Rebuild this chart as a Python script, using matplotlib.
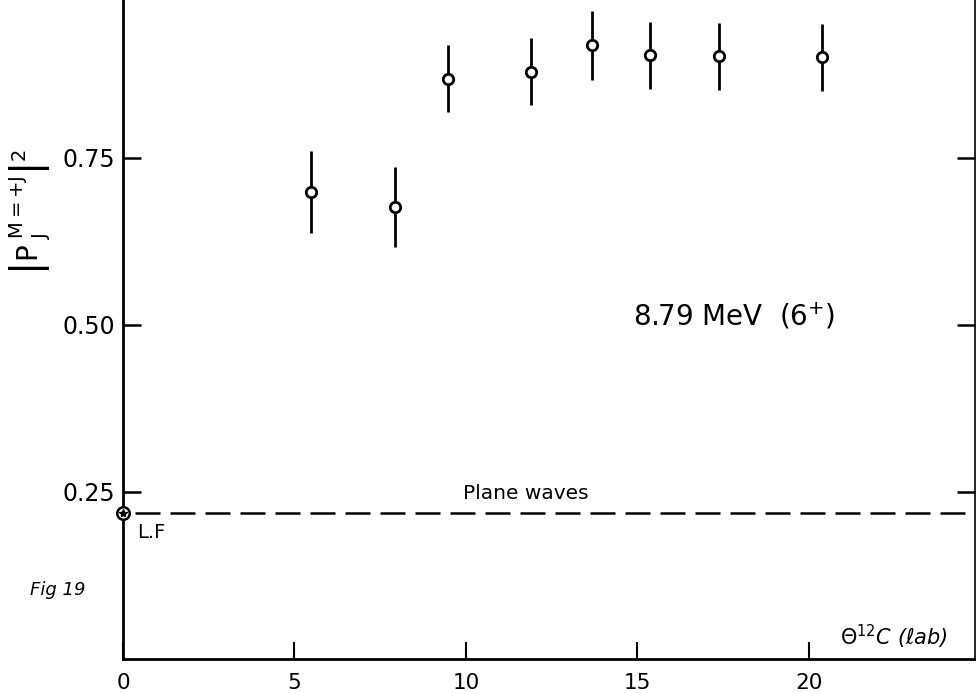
import numpy as np
import matplotlib
matplotlib.use("Agg")
import matplotlib.pyplot as plt

# angle (deg, lab) and |P_J^{M=+J}|^2
theta = [5.47, 7.93, 9.47, 11.89, 13.66, 15.36, 17.38, 20.37]
prob = [0.699, 0.676, 0.868, 0.879, 0.918, 0.903, 0.902, 0.900]
err = [0.061, 0.060, 0.050, 0.050, 0.051, 0.050, 0.050, 0.050]

plane_wave = 0.218   # plane-wave / LF value
lf_theta = 0.0

xticks = [0, 5, 10, 15, 20]
yticks = [0.25, 0.50, 0.75]
ytick_labels = ["0.25", "0.50", "0.75"]

fig = plt.figure(figsize=(9.76, 6.93), dpi=100)
ax = fig.add_axes([0.126, 0.049, 0.873, 0.951])

ax.errorbar(theta, prob, yerr=err, fmt="o", ms=7.5, mfc="white", mec="black",
            mew=2.0, ecolor="black", elinewidth=2.0, capsize=0, zorder=3)

ax.plot([0.35, 25], [plane_wave, plane_wave], color="black", lw=1.8,
        dashes=(10, 4), zorder=2)
ax.plot([lf_theta], [plane_wave], "o", ms=9, mfc="white", mec="black", mew=1.8,
        zorder=4, clip_on=False)
ax.plot([lf_theta], [plane_wave], "*", ms=6, color="black", zorder=5, clip_on=False)

ax.text(9.9, 0.248, "Plane waves", fontsize=14.5, va="center", ha="left")
ax.text(0.4, 0.19, "L.F", fontsize=14, va="center", ha="left")
ax.text(14.87, 0.513, r"8.79 MeV  (6$^{+}$)", fontsize=20, va="center", ha="left")
ax.text(20.9, 0.012, r"$\Theta^{12}$C ($\ell$ab)", fontsize=15, va="bottom", ha="left",
        style="italic")
fig.text(0.031, 0.148, "Fig 19", fontsize=13, style="italic", va="center")

ax.set_xlim(0, 24.84)
ax.set_ylim(0, 0.986)
ax.set_xticks(xticks)
ax.set_yticks(yticks)
ax.set_yticklabels(ytick_labels)

ax.tick_params(axis="x", direction="in", length=12, width=1.5, labelsize=15.5, pad=10)
ax.tick_params(axis="y", direction="in", length=13, width=1.8, labelsize=17, pad=6,
               right=True)

ax.set_ylabel(r"$\left|\mathrm{P}_{\ \mathrm{J}}^{\ \mathrm{M=+J}}\right|^2$", fontsize=20)
ax.yaxis.set_label_coords(-0.082, 0.678)

ax.spines["top"].set_visible(False)
ax.spines["left"].set_linewidth(2.0)
ax.spines["bottom"].set_linewidth(2.0)
ax.spines["right"].set_linewidth(1.2)

fig.savefig("out.png", dpi=100)
